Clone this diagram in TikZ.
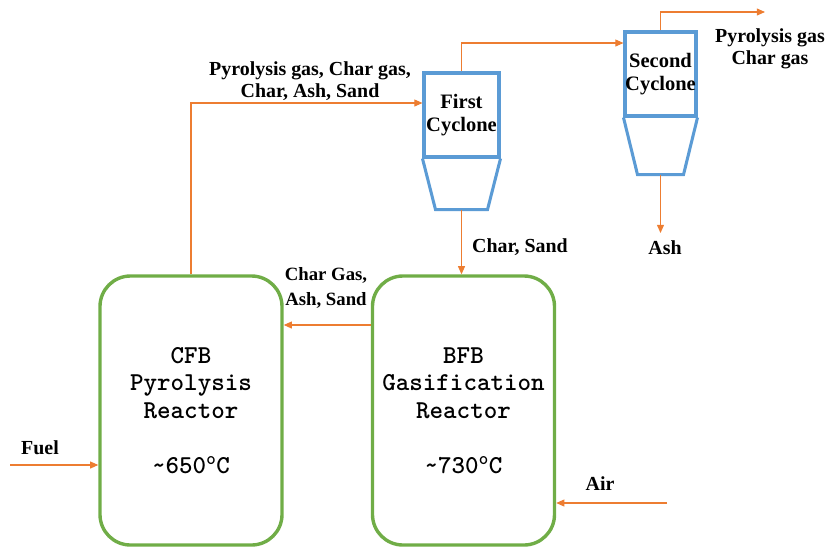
\documentclass[tikz,border=0pt]{standalone}
\usepackage{fontspec}
\setmainfont{Liberation Serif}
\usepackage{tikz}
\usetikzlibrary{positioning, arrows.meta, calc}
\definecolor{cG}{RGB}{112,173,71}
\definecolor{cB}{RGB}{91,155,213}
\definecolor{cO}{RGB}{237,125,49}

\begin{document}
\begin{tikzpicture}[x=0.03cm, y=-0.03cm,
    reactor/.style={draw=cG, line width=2.9pt, rounded corners=26pt, minimum width=5.46cm, minimum height=8.07cm, align=center, inner sep=0pt, font=\ttfamily\bfseries\fontsize{22}{23.5}\selectfont},
    cyclone/.style={draw=cB, line width=2.6pt, align=center, inner sep=0pt, font=\bfseries\fontsize{17.5}{19}\selectfont},
    flow/.style={draw=cO, line width=0.9pt, -{Triangle[length=7pt, width=6pt]}},
    lbl/.style={align=center, font=\bfseries\fontsize{17}{19}\selectfont}]
    \useasboundingbox (0,0) rectangle (832,548);

    % reactors
    \node[reactor] (CFB) at (191,410.5) {CFB\\Pyrolysis\\Reactor\\[23.5pt]\textasciitilde650\textsuperscript{o}C};
    \node[reactor] (BFB) at (463.5,410.5) {BFB\\Gasification\\Reactor\\[23.5pt]\textasciitilde730\textsuperscript{o}C};

    % cyclones
    \node[cyclone, minimum width=2.25cm, minimum height=2.52cm] (C1) at (461.5,115) {First\\Cyclone};
    \node[cyclone, minimum width=2.13cm, minimum height=2.52cm] (C2) at (660.5,74) {Second\\Cyclone};
    \draw[cB, line width=2.6pt] (C1.south west) -- ($(C1.south west)+(13,51)$) -- ($(C1.south east)+(-13,51)$) -- (C1.south east);
    \draw[cB, line width=2.6pt] (C2.south west) -- ($(C2.south west)+(14,57)$) -- ($(C2.south east)+(-14,57)$) -- (C2.south east);
    \coordinate (C1out) at ($(C1.south)+(0,51)$);
    \coordinate (C2out) at ($(C2.south)+(0,57)$);

    \coordinate (gasout) at (765,12);
    \coordinate (ashout) at (660.5,233);
    \coordinate (fuelin) at (10,465);
    \coordinate (airin) at (667,503);

    % streams
    \draw[flow] (CFB.north) |- ($(C1.west)+(0,-12)$);
    \draw[flow] (C1.north) |- ($(C2.west)+(0,-31)$);
    \draw[flow] (C2.north) |- (gasout);
    \draw[flow] (C2out) -- (ashout);
    \draw[flow] (C1out) -- (C1out |- BFB.north);
    \draw[flow] ($(BFB.west)+(0,-85.5)$) -- ($(CFB.east)+(0,-85.5)$);
    \draw[flow] (fuelin) -- (fuelin -| CFB.west);
    \draw[flow] (airin) -- (airin -| BFB.east);

    % labels
    \node[lbl] (l1) at (310,81) {Pyrolysis gas, Char gas,\\Char, Ash, Sand};
    \node[lbl, anchor=west] (l2) at (468,247) {Char, Sand};
    \node[lbl] (l3) at (665,248) {Ash};
    \node[lbl] (l4) at (770,49) {Pyrolysis gas\\Char gas};
    \node[lbl, font=\bfseries\fontsize{16}{21}\selectfont] (l5) at (326,288) {Char Gas,\\Ash, Sand};
    \node[lbl] (l6) at (40,448) {Fuel};
    \node[lbl] (l7) at (600,484) {Air};
\end{tikzpicture}
\end{document}
